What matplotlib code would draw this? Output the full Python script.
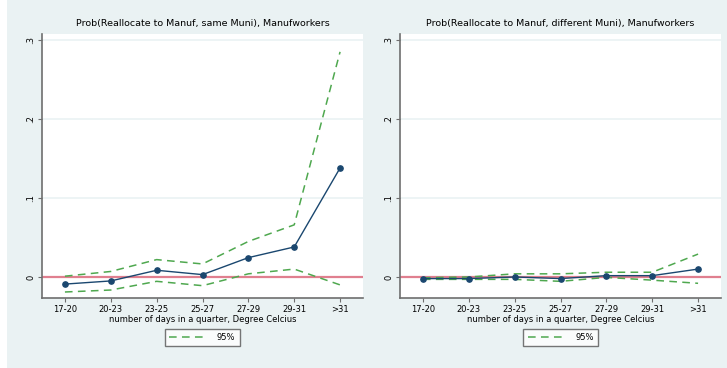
import numpy as np
import matplotlib.pyplot as plt
import matplotlib.patches as mpatches
from matplotlib.lines import Line2D

cats = ['17-20', '20-23', '23-25', '25-27', '27-29', '29-31', '>31']

# same municipality
same_est = [-0.009, -0.005, 0.0085, 0.003, 0.0245, 0.038, 0.138]
same_hi = [0.001, 0.007, 0.022, 0.0165, 0.045, 0.066, 0.285]
same_lo = [-0.019, -0.0165, -0.0055, -0.011, 0.004, 0.010, -0.010]

# different municipality
diff_est = [-0.002, -0.002, 0.0, -0.002, 0.0017, 0.0017, 0.010]
diff_hi = [-0.001, 0.0, 0.004, 0.004, 0.006, 0.006, 0.029]
diff_lo = [-0.003, -0.003, -0.003, -0.0055, -0.0005, -0.004, -0.008]

titles = ['Prob(Reallocate to Manuf, same Muni), Manufworkers',
          'Prob(Reallocate to Manuf, different Muni), Manufworkers']

bg = '#eaf2f3'
navy = '#1a476f'
green = '#4fa84f'
pink = '#e07f8f'
axcol = '#6e6e6e'

W, H = 727, 368
fig = plt.figure(figsize=(W/100, H/100), dpi=100, facecolor=bg)
# thin white strip on far left
fig.patches.append(mpatches.Rectangle((0, 0), 7/W, 1, transform=fig.transFigure,
                                      facecolor='white', edgecolor='none', zorder=0))

panels = [(42, same_est, same_hi, same_lo), (400, diff_est, diff_hi, diff_lo)]
x = np.arange(1, len(cats) + 1)

for k, (px, est, hi, lo) in enumerate(panels):
    ax = fig.add_axes([px/W, 1 - 298/H, 321/W, 264/H])
    ax.set_facecolor('white')
    ax.set_xlim(0.5, 7.5)
    ax.set_ylim(-0.0266, 0.3076)
    for g in [0.1, 0.2, 0.3]:
        ax.axhline(g, color=bg, lw=1.2, zorder=1)
    ax.axhline(0, color=pink, lw=1.6, zorder=2)
    ax.plot(x, hi, color=green, lw=1.1, dashes=(5, 3.5), zorder=3)
    ax.plot(x, lo, color=green, lw=1.1, dashes=(5, 3.5), zorder=3)
    ax.plot(x, est, color=navy, lw=1.0, marker='o', ms=3.8, zorder=4)

    for s in ['top', 'right']:
        ax.spines[s].set_visible(False)
    for s in ['left', 'bottom']:
        ax.spines[s].set_color(axcol)
        ax.spines[s].set_linewidth(1.2)
    ax.set_xticks(x)
    ax.set_xticklabels(cats, fontsize=6)
    ax.set_yticks([0, 0.1, 0.2, 0.3])
    ax.set_yticklabels(['0', '.1', '.2', '.3'], fontsize=6, rotation=90, va='center')
    ax.tick_params(axis='both', length=3, width=0.8, color=axcol, pad=2)
    ax.set_title(titles[k], fontsize=6.8, pad=6)
    ax.set_xlabel('number of days in a quarter, Degree Celcius', fontsize=6, labelpad=1)

    leg = ax.legend([Line2D([], [], color=green, lw=1.1, dashes=(5, 3.5))], ['95%'],
                    loc='upper center', bbox_to_anchor=(0.5, -0.10), fontsize=6,
                    frameon=True, fancybox=False, handlelength=4.5,
                    borderpad=0.5, handletextpad=1.2)
    leg.get_frame().set_edgecolor('#555555')
    leg.get_frame().set_linewidth(1.0)

fig.savefig('out.png', dpi=100, facecolor=fig.get_facecolor())
